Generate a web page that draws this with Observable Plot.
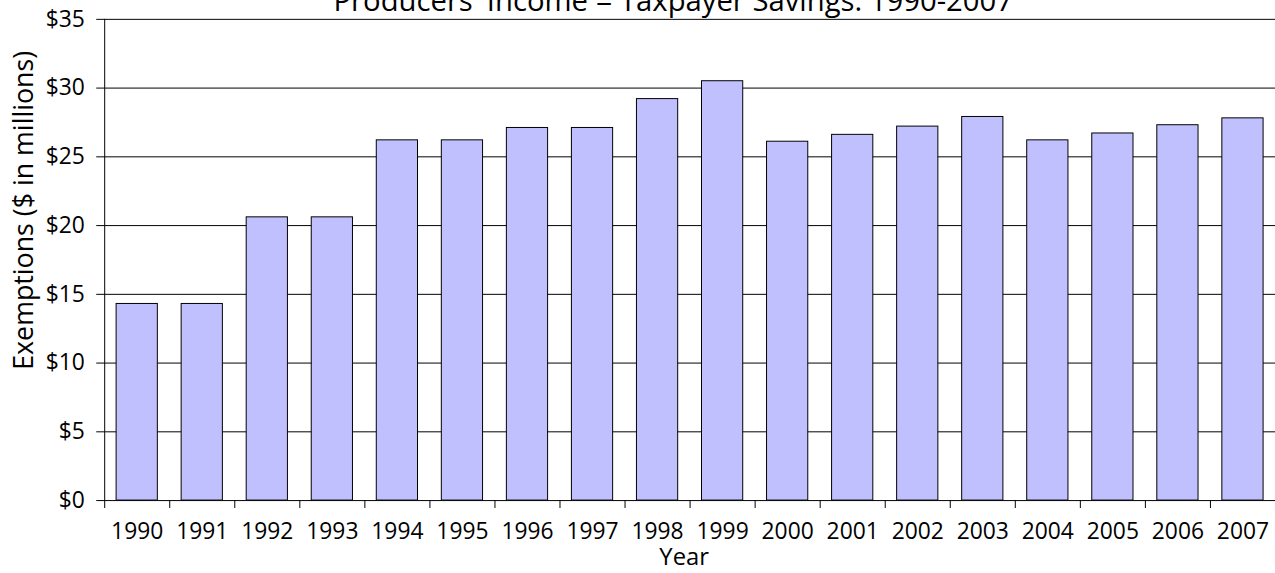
<!DOCTYPE html>
<html>
<head>
<meta charset="utf-8">
<script src="https://cdn.jsdelivr.net/npm/d3@7"></script>
<script src="https://cdn.jsdelivr.net/npm/@observablehq/plot@0.6"></script>
<style>
  html, body { margin: 0; padding: 0; background: #fff; overflow: hidden; width: 1275px; height: 573px; }
  #chart svg { display: block; }
</style>
</head>
<body>
<div id="chart"></div>
<script>
const titleText = "Producers' Income = Taxpayer Savings: 1990-2007";
const yTitle = "Exemptions ($ in millions)";
const xTitle = "Year";
const years = [1990,1991,1992,1993,1994,1995,1996,1997,1998,1999,2000,2001,2002,2003,2004,2005,2006,2007];
const values = [14.3,14.3,20.6,20.6,26.2,26.2,27.1,27.1,29.2,30.5,26.1,26.6,27.2,27.9,26.2,26.7,27.3,27.8];
const yTicks = [0,5,10,15,20,25,30,35];

const data = years.map((year, i) => ({year, value: values[i]}));
const boundaries = years.map(y => y - 0.5);

const chart = Plot.plot({
  width: 1285,
  height: 573,
  marginTop: 19,
  marginBottom: 69,
  marginLeft: 105,
  marginRight: 0,
  style: {fontFamily: "'Open Sans', sans-serif", color: "#000", background: "#fff"},
  x: {type: "linear", domain: [years[0] - 0.5, years[years.length - 1] + 0.5]},
  y: {domain: [0, 35]},
  marks: [
    Plot.ruleY(yTicks, {stroke: "#000", strokeWidth: 1}),
    Plot.rectY(data, {
      x1: d => d.year - 0.5,
      x2: d => d.year + 0.5,
      y: "value",
      insetLeft: 12,
      insetRight: 12,
      fill: "#c0c0ff",
      stroke: "#000",
      strokeWidth: 1
    }),
    Plot.ruleX([years[0] - 0.5], {y1: 0, y2: 35, stroke: "#000"}),
    Plot.axisY({ticks: yTicks, tickFormat: d => `$${d}`, tickSize: 8, tickPadding: 12, fontSize: 23, label: null}),
    Plot.axisX({ticks: boundaries, tickFormat: () => "", tickSize: 8, label: null}),
    Plot.axisX({ticks: years, tickFormat: d => String(d), tickSize: 0, tickPadding: 22, fontSize: 23, label: null}),
    Plot.text([xTitle], {frameAnchor: "bottom", textAnchor: "middle", lineAnchor: "bottom", dy: 65, dx: -6, fontSize: 24, fill: "#000"}),
    Plot.text([yTitle], {frameAnchor: "left", textAnchor: "middle", lineAnchor: "middle", rotate: -90, dx: -81, dy: -50, fontSize: 27, fill: "#000"}),
    Plot.text([titleText], {frameAnchor: "top", textAnchor: "middle", lineAnchor: "bottom", dy: -8.5, dx: -17, fontSize: 29.5, fill: "#000"})
  ]
});
document.getElementById("chart").appendChild(chart);
</script>
</body>
</html>
